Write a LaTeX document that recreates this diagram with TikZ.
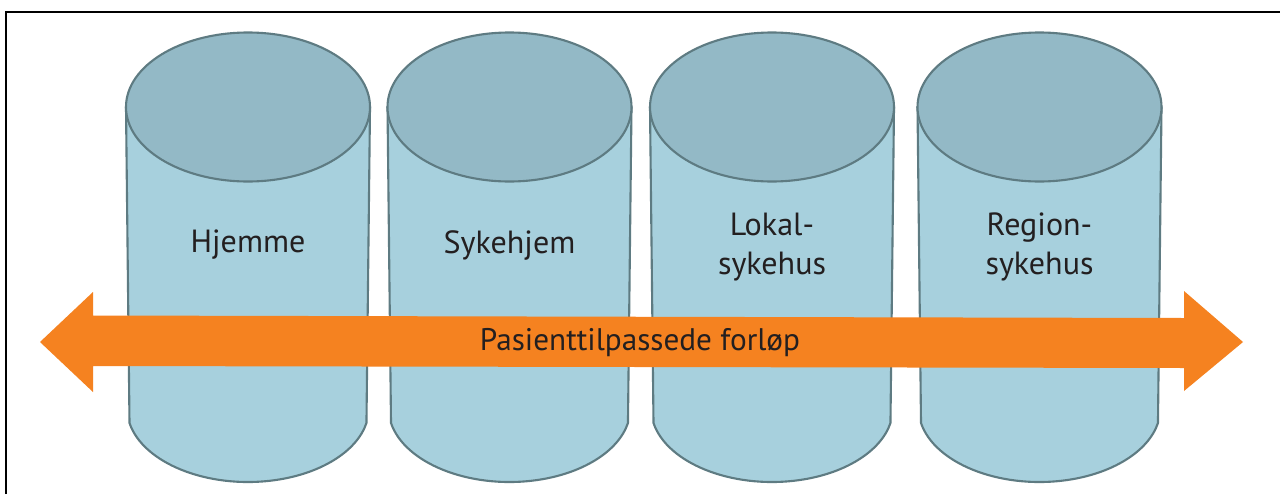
\documentclass[tikz,border=0pt]{standalone}
\usepackage{fontspec}
\setmainfont{PT Sans}
\definecolor{cyltop}{HTML}{93B9C6}
\definecolor{cylbody}{HTML}{A7D0DD}
\definecolor{cylline}{HTML}{5E7B82}
\definecolor{arroworange}{HTML}{F58220}
\definecolor{txt}{HTML}{231F20}
\begin{document}
\begin{tikzpicture}[x=0.025cm,y=0.025cm,
  cylstroke/.style={draw=cylline,line width=1.5pt,line join=round},
  lbl/.style={text=txt,font=\fontsize{22.8}{27.8}\selectfont,align=center,inner sep=0pt},
  arrowlbl/.style={lbl,font=\fontsize{22.2}{27}\selectfont}]
\useasboundingbox (0,0) rectangle (1280,-494);
\fill[white] (0,0) rectangle (1280,-494);
% frame
\draw[line width=1.5pt] (6,-494) -- (6,-12) -- (1280,-12);
% cylinders
\foreach \cx in {248,509.5,772,1039.5}{
  \draw[cylstroke,fill=cylbody] (\cx-122,-107) -- (\cx-118.5,-423)
     arc[start angle=191.7,end angle=348.3,x radius=121,y radius=74]
     -- (\cx+122,-107) -- cycle;
  \draw[cylstroke,fill=cyltop] (\cx,-107) ellipse [x radius=122,y radius=74.5];
}
\node[lbl] (hjemme) at (248,-245) {Hjemme};
\node[lbl] (sykehjem) at (509.5,-245) {Sykehjem};
\node[lbl] (lokal) at (772,-247) {Lokal-\\sykehus};
\node[lbl] (region) at (1039.5,-247) {Region-\\sykehus};
% arrow
\fill[arroworange] (40,-342) -- (93,-292) -- (93,-315.5) -- (1184,-318) -- (1184,-291)
  -- (1243,-342) -- (1184,-391) -- (1184,-368) -- (93,-366) -- (93,-392) -- cycle;
\node[arrowlbl] (flow) at (640,-343) {Pasienttilpassede forløp};
\end{tikzpicture}
\end{document}
